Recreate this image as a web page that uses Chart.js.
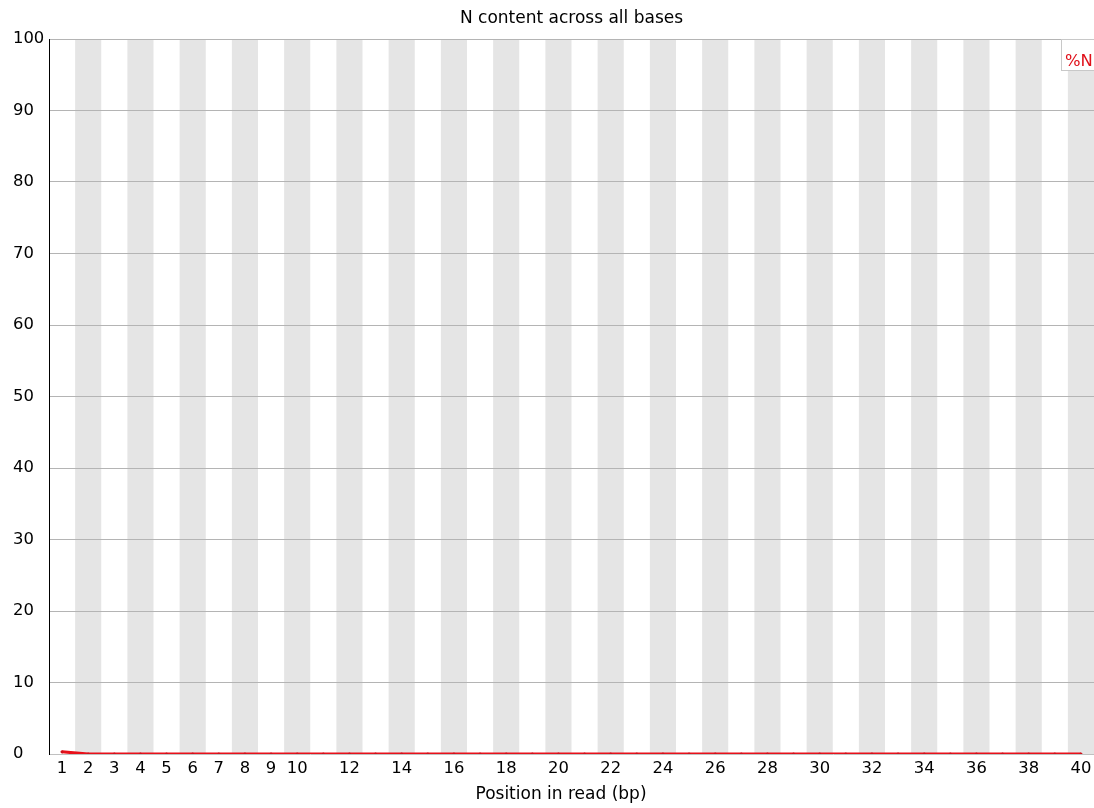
<!DOCTYPE html>
<html>
<head>
<meta charset="utf-8">
<script src="https://cdn.jsdelivr.net/npm/chart.js@4"></script>
<style>
  html, body { margin: 0; padding: 0; background: #fff; }
  #wrap { width: 1094px; height: 808px; }
</style>
</head>
<body>
<div id="wrap"><canvas id="nChart" width="1094" height="808"></canvas></div>
<script>
// data
const positions = Array.from({ length: 40 }, (_, i) => String(i + 1));
const nPercent = [
  0.3, 0, 0, 0, 0, 0, 0, 0, 0, 0,
  0, 0, 0, 0, 0, 0, 0, 0, 0, 0,
  0, 0, 0, 0, 0, 0, 0, 0, 0, 0,
  0, 0, 0, 0, 0, 0, 0, 0, 0, 0,
];
const yTicks = [0, 10, 20, 30, 40, 50, 60, 70, 80, 90, 100];
const xTitle = "Position in read (bp)";

const FONT = "'DejaVu Sans', sans-serif";
const FS = 16.4;

// alternating grey bands behind every second position
const bandPlugin = {
  id: "bands",
  beforeDraw(chart) {
    const { ctx, chartArea, scales } = chart;
    const x = scales.x;
    const half = (x.getPixelForValue(1) - x.getPixelForValue(0)) / 2;
    ctx.save();
    ctx.fillStyle = "#e5e5e5";
    positions.forEach((p, i) => {
      if (i % 2 === 1) {
        const c = x.getPixelForValue(i);
        ctx.fillRect(c - half, chartArea.top, half * 2, chartArea.bottom - chartArea.top);
      }
    });
    ctx.restore();
  },
};

// legend box in the top right corner + x axis title (sits a bit left of centre)
const extras = {
  id: "extras",
  afterDraw(chart) {
    const { ctx, chartArea } = chart;
    const x0 = 1061.5;
    const y0 = chartArea.top + 0.5;
    const w = chartArea.right - x0 + 2, h = 31;
    ctx.save();
    ctx.fillStyle = "#fff";
    ctx.fillRect(x0, y0, w, h);
    ctx.strokeStyle = "#c8c8c8";
    ctx.lineWidth = 1;
    ctx.strokeRect(x0, y0, w, h);
    ctx.fillStyle = "#e0101a";
    ctx.font = FS + "px " + FONT;
    ctx.textBaseline = "alphabetic";
    ctx.fillText(chart.data.datasets[0].label, x0 + 3.5, 66);

    ctx.fillStyle = "#000";
    ctx.font = "17px " + FONT;
    ctx.textAlign = "center";
    ctx.textBaseline = "middle";
    ctx.fillText(xTitle, 561, 795);
    ctx.restore();
  },
};

new Chart(document.getElementById("nChart"), {
  type: "line",
  data: {
    labels: positions,
    datasets: [
      {
        label: "%N",
        data: nPercent,
        borderColor: "#e8101a",
        backgroundColor: "#d0101a",
        borderWidth: 3,
        pointRadius: 1.6,
        pointBorderWidth: 0,
        tension: 0,
      },
    ],
  },
  options: {
    responsive: false,
    animation: false,
    layout: { autoPadding: false, padding: { left: 13, right: 0, top: 0, bottom: 0 } },
    plugins: {
      legend: { display: false },
      tooltip: { enabled: false },
      title: {
        display: true,
        text: "N content across all bases",
        fullSize: false,
        color: "#000",
        font: { family: FONT, size: 17, weight: "normal" },
        padding: { top: 8, bottom: 10.6 },
      },
    },
    scales: {
      x: {
        type: "category",
        offset: true,
        grid: { display: false, offset: true, drawTicks: false },
        border: { display: true, color: "#c0c0c0", width: 1 },
        ticks: {
          color: "#000",
          font: { family: FONT, size: FS },
          padding: 5,
          maxRotation: 0,
          autoSkip: false,
          callback: (v, i) => (i < 9 || i % 2 === 1 ? positions[i] : ""),
        },
        title: { display: false, text: xTitle },
        afterFit: (s) => {
          s.height = 54;
          s.paddingLeft = 0;
          s.paddingRight = 0;
        },
      },
      y: {
        min: 0,
        max: 100,
        afterBuildTicks: (s) => { s.ticks = yTicks.map((v) => ({ value: v })); },
        grid: {
          color: (c) => (c.tick.value === 0 ? "rgba(0,0,0,0)" : "#b4b4b4"),
          drawTicks: false,
        },
        border: { display: true, color: "#000", width: 1 },
        ticks: {
          color: "#000",
          font: { family: FONT, size: FS },
          crossAlign: "far",
          padding: 6,
        },
        afterFit: (s) => { s.width = 36; },
      },
    },
  },
  plugins: [bandPlugin, extras],
});
</script>
</body>
</html>
